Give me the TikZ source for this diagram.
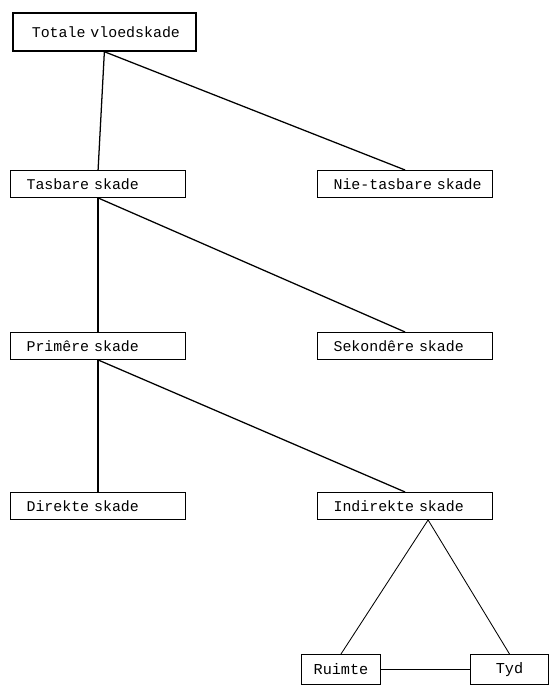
\documentclass[tikz,border=0pt]{standalone}
\usepackage{fontspec}
\setmonofont[WordSpace=1.5]{Liberation Mono}
\usetikzlibrary{positioning}
\tikzset{box/.style={
            draw,
            line width=0.8pt,
            anchor=north west,
            minimum height=0.67cm,
            inner xsep=0.4cm,
            inner ysep=0pt,
            text width=3.575cm,
            align=left,
            execute at begin node=\leavevmode\hbox\bgroup,
            execute at end node=\egroup,
            font=\ttfamily\fontsize{10.6}{12}\selectfont
        },
        topbox/.style={
            box,
            line width=1.2pt,
            minimum height=0.95cm,
            inner xsep=0.475cm,
            text width=3.625cm
        },
        smallbox/.style={
            draw,
            line width=0.7pt,
            anchor=north west,
            minimum height=0.75cm,
            inner sep=0pt,
            align=center,
            font=\ttfamily\fontsize{10.8}{12}\selectfont
        },
        link/.style={
            line width=0.9pt
        },
        thinlink/.style={
            line width=0.6pt
        }
    }
\begin{document}
\begin{tikzpicture}[x=0.025cm,y=-0.025cm]
\useasboundingbox (0,0) rectangle (551,686);
\node[topbox] (tot) at (12,12) {Totale vloedskade};
\node[box] (tas) at (10,170) {Tasbare skade};
\node[box] (nie) at (317,170) {Nie-tasbare skade};
\node[box] (prim) at (10,332) {Primêre skade};
\node[box] (sek) at (317,332) {Sekondêre skade};
\node[box] (dir) at (10,492) {Direkte skade};
\node[box] (indir) at (317,492) {Indirekte skade};
\node[smallbox, minimum width=1.975cm] (ruim) at (301,654) {Ruimte};
\node[smallbox, minimum width=1.95cm] (tyd) at (470,654) {Tyd};
\coordinate (split) at ([xshift=0.575cm]indir.south);
\draw[link] (tot.south) -- (tas.north);
\draw[link] (tot.south) -- (nie.north);
\draw[link] (tas.south) -- (prim.north);
\draw[link] (tas.south) -- (sek.north);
\draw[link] (prim.south) -- (dir.north);
\draw[link] (prim.south) -- (indir.north);
\draw[thinlink] (split) -- (ruim.north);
\draw[thinlink] (split) -- (tyd.north);
\draw[thinlink] (ruim.east) -- (tyd.west);
\end{tikzpicture}
\end{document}
